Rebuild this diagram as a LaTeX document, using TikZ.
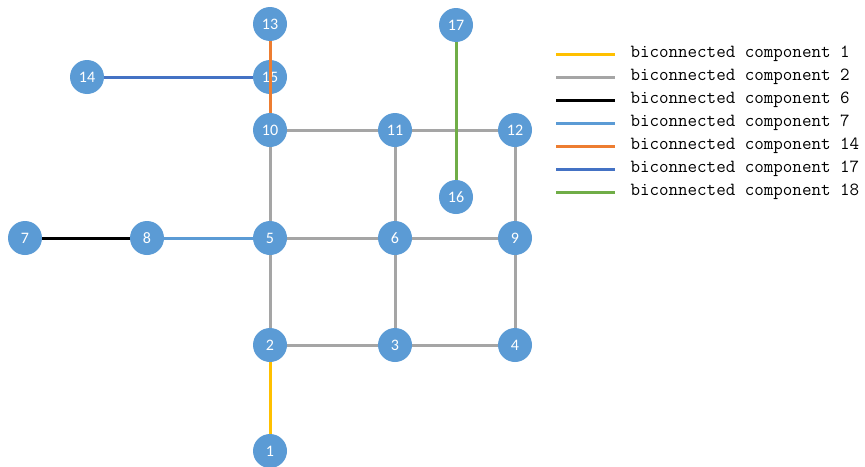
\documentclass[tikz,border=0pt]{standalone}
\usepackage{fontspec}
\setsansfont{Carlito}
\usetikzlibrary{backgrounds}

\definecolor{vblue}{HTML}{5B9BD5}
\definecolor{cgray}{HTML}{A5A5A5}
\definecolor{cyellow}{HTML}{FFC000}
\definecolor{corange}{HTML}{ED7D31}
\definecolor{cdblue}{HTML}{4472C4}
\definecolor{cgreen}{HTML}{70AD47}

\tikzset{
  vertex/.style={circle,fill=vblue,text=white,minimum size=34pt,inner sep=0pt,
    font=\sffamily\fontsize{16}{16}\selectfont},
  edge/.style={line width=3pt},
  legtext/.style={right,inner sep=0pt,font=\ttfamily\fontsize{18.5}{18.5}\selectfont}
}

\begin{document}
\begin{tikzpicture}[x=1pt,y=-1pt]
    \useasboundingbox (0,0) rectangle (865,466);
    % vertices
    \node[vertex] (n13) at (270,24) {13};
    \node[vertex] (n17) at (456,25) {17};
    \node[vertex] (n14) at (87,77) {14};
    \node[vertex] (n15) at (270,77) {15};
    \node[vertex] (n10) at (270,130) {10};
    \node[vertex] (n11) at (395,130) {11};
    \node[vertex] (n12) at (515,130) {12};
    \node[vertex] (n16) at (456,197) {16};
    \node[vertex] (n7) at (25,238) {7};
    \node[vertex] (n8) at (147,238) {8};
    \node[vertex] (n5) at (270,238) {5};
    \node[vertex] (n6) at (395,238) {6};
    \node[vertex] (n9) at (515,238) {9};
    \node[vertex] (n2) at (270,345) {2};
    \node[vertex] (n3) at (395,345) {3};
    \node[vertex] (n4) at (515,345) {4};
    \node[vertex] (n1) at (270,451) {1};
    % edges
    \begin{scope}[on background layer]
        \draw[edge,cgray] (n10)--(n11) (n11)--(n12) (n10)--(n5) (n11)--(n6)
            (n12)--(n9) (n5)--(n6) (n6)--(n9) (n5)--(n2) (n6)--(n3)
            (n9)--(n4) (n2)--(n3) (n3)--(n4);
        \draw[edge,cgreen] (n17)--(n16);
        \draw[edge,cyellow] (n2)--(n1);
        \draw[edge,black] (n7)--(n8);
        \draw[edge,vblue] (n8)--(n5);
        \draw[edge,cdblue] (n14)--(n15);
    \end{scope}
    \draw[edge,corange] (n13)--(n10);
    % legend
    \foreach \c/\t [count=\i] in {cyellow/1,cgray/2,black/6,vblue/7,corange/14,cdblue/17,cgreen/18}
        \draw[edge,\c] (556,31+23*\i) -- ++(59,0)
            node[legtext,text=black,xshift=14pt] {biconnected component \t};
\end{tikzpicture}
\end{document}
